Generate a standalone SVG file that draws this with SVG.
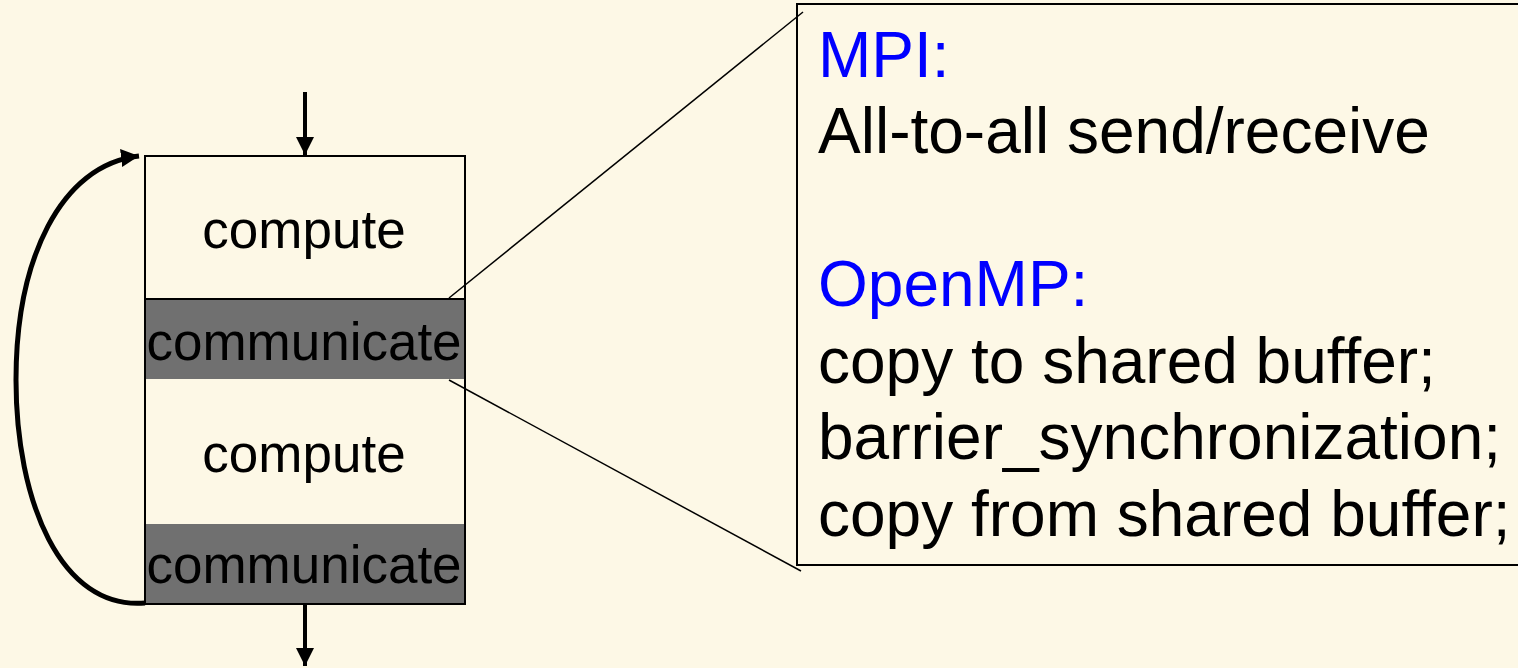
<svg xmlns="http://www.w3.org/2000/svg" width="1518" height="668" viewBox="0 0 1518 668">
  <style>
    .txt { font-family: "Liberation Sans", Arial, sans-serif; fill: #000; }
    .blk { font-size: 53px; }
    .note { font-size: 64px; }
    .hd { fill: #0000FF; }
    .edge { stroke: #000; stroke-width: 4; fill: none; }
    .loop { stroke: #000; stroke-width: 5; fill: none; }
    .lead { stroke: #000; stroke-width: 1.5; fill: none; }
  </style>
  <defs>
    <marker id="head" viewBox="0 0 10 10" refX="10" refY="5" markerWidth="18" markerHeight="18" markerUnits="userSpaceOnUse" orient="auto">
      <path d="M0,0 L10,5 L0,10 Z" fill="#000"/>
    </marker>
  </defs>

  <rect width="1518" height="668" fill="#FDF8E6"/>

  <!-- stacked phase column -->
  <g id="phase-column">
    <rect x="145" y="156" width="320" height="448" fill="#FDF8E6" stroke="#000" stroke-width="2"/>
  </g>
  <g id="compute-1">
    <text class="txt blk" x="304" y="248" text-anchor="middle">compute</text>
  </g>
  <g id="communicate-1">
    <rect x="146" y="299" width="318" height="80" fill="#707070"/>
    <line x1="145" y1="299" x2="465" y2="299" stroke="#000" stroke-width="2"/>
    <text class="txt blk" x="304" y="360" text-anchor="middle">communicate</text>
  </g>
  <g id="compute-2">
    <text class="txt blk" x="304" y="472" text-anchor="middle">compute</text>
  </g>
  <g id="communicate-2">
    <rect x="146" y="524" width="318" height="79" fill="#707070"/>
    <text class="txt blk" x="304" y="583" text-anchor="middle">communicate</text>
  </g>

  <!-- detail callout -->
  <g id="detail-box">
    <rect x="797" y="4" width="760" height="561" fill="#FDF8E6" stroke="#000" stroke-width="2"/>
    <text class="txt note hd" x="818" y="77">MPI:</text>
    <text class="txt note" x="818" y="153">All-to-all send/receive</text>
    <text class="txt note hd" x="818" y="306">OpenMP:</text>
    <text class="txt note" x="818" y="383">copy to shared buffer;</text>
    <text class="txt note" x="818" y="459">barrier_synchronization;</text>
    <text class="txt note" x="818" y="536">copy from shared buffer;</text>
  </g>

  <!-- connectors -->
  <g id="connectors">
    <line class="edge" x1="305" y1="92" x2="305" y2="155" marker-end="url(#head)"/>
    <line class="edge" x1="305" y1="605" x2="305" y2="666" marker-end="url(#head)"/>
    <path class="loop" d="M145,603 C60,610 16,500 16,380 C16,260 60,165 139,156" marker-end="url(#head)"/>
    <line class="lead" x1="449" y1="298" x2="803" y2="12"/>
    <line class="lead" x1="449" y1="380" x2="801" y2="571"/>
  </g>
</svg>
